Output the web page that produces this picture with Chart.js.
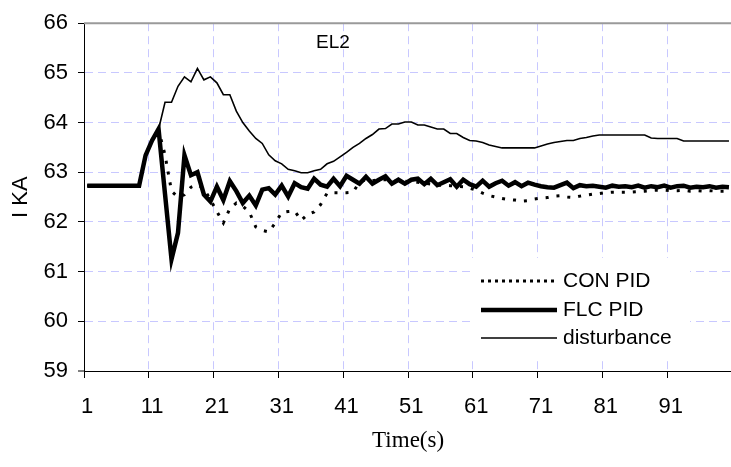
<!DOCTYPE html>
<html>
<head>
<meta charset="utf-8">
<title>EL2</title>
<script src="https://cdn.jsdelivr.net/npm/chart.js@4.4.0/dist/chart.umd.min.js"></script>
<style>
  html,
  body {
    margin: 0;
    padding: 0;
    background: #fff;
    overflow: hidden;
  }
  .c-chart {
    width: 745px;
    height: 467px;
  }
</style>
</head>
<body>
<div class="c-chart"><canvas class="js-chart" width="745" height="467"></canvas></div>
<script>
//#region ***  Data                                     ***********
const timeLabels = [
  "1", "2", "3", "4", "5", "6", "7", "8", "9", "10",
  "11", "12", "13", "14", "15", "16", "17", "18", "19", "20",
  "21", "22", "23", "24", "25", "26", "27", "28", "29", "30",
  "31", "32", "33", "34", "35", "36", "37", "38", "39", "40",
  "41", "42", "43", "44", "45", "46", "47", "48", "49", "50",
  "51", "52", "53", "54", "55", "56", "57", "58", "59", "60",
  "61", "62", "63", "64", "65", "66", "67", "68", "69", "70",
  "71", "72", "73", "74", "75", "76", "77", "78", "79", "80",
  "81", "82", "83", "84", "85", "86", "87", "88", "89", "90",
  "91", "92", "93", "94", "95", "96", "97", "98", "99", "100",
];
const shownTimeTicks = ["1", "11", "21", "31", "41", "51", "61", "71", "81", "91"];
const yTicks = [59, 60, 61, 62, 63, 64, 65, 66];

const conPid = [
  62.73, 62.73, 62.73, 62.73, 62.73, 62.73, 62.73, 62.73, 62.73, 63.34,
  63.64, 63.85, 63.35, 62.62, 62.5, 62.55, 62.7, 62.75, 62.67, 62.45,
  62.21, 61.98, 62.27, 62.38, 62.32, 62.2, 61.9, 61.83, 61.8, 61.98,
  62.19, 62.21, 62.22, 62.03, 62.15, 62.2, 62.35, 62.58, 62.59, 62.59,
  62.59, 62.6, 62.8, 62.85, 62.83, 62.85, 62.85, 62.83, 62.82, 62.82,
  62.8, 62.8, 62.78, 62.76, 62.74, 62.74, 62.73, 62.72, 62.71, 62.68,
  62.64, 62.58, 62.53, 62.5, 62.47, 62.45, 62.44, 62.42, 62.43, 62.46,
  62.48, 62.49, 62.52, 62.53, 62.5, 62.49, 62.52, 62.54, 62.56, 62.57,
  62.59, 62.6, 62.6, 62.6, 62.6, 62.61, 62.62, 62.63, 62.64, 62.64,
  62.63, 62.63, 62.64, 62.62, 62.63, 62.62, 62.63, 62.62, 62.62, 62.62,
];
const flcPid = [
  62.73, 62.73, 62.73, 62.73, 62.73, 62.73, 62.73, 62.73, 62.73, 63.34,
  63.64, 63.87, 62.56, 61.25, 61.78, 63.34, 62.94, 63.0, 62.55, 62.41,
  62.71, 62.44, 62.82, 62.62, 62.38, 62.53, 62.33, 62.65, 62.68, 62.55,
  62.73, 62.51, 62.78, 62.7, 62.67, 62.87, 62.75, 62.71, 62.87, 62.72,
  62.93, 62.85, 62.77, 62.91, 62.77, 62.85, 62.92, 62.77, 62.85, 62.77,
  62.85, 62.87, 62.76, 62.87, 62.74, 62.8, 62.86, 62.71, 62.85, 62.76,
  62.71, 62.83, 62.71, 62.78, 62.83, 62.73, 62.8, 62.72, 62.79, 62.75,
  62.72, 62.7, 62.69, 62.74, 62.79, 62.68, 62.74, 62.72, 62.73, 62.71,
  62.69, 62.73, 62.71, 62.72, 62.7, 62.73, 62.69, 62.72, 62.7, 62.73,
  62.69, 62.72, 62.73, 62.69, 62.71, 62.7, 62.72, 62.69, 62.71, 62.7,
];
const disturbance = [
  62.73, 62.73, 62.73, 62.73, 62.73, 62.73, 62.73, 62.73, 62.73, 63.34,
  63.64, 63.86, 64.41, 64.41, 64.73, 64.92, 64.82, 65.09, 64.86, 64.92,
  64.8, 64.56, 64.56, 64.23, 64.0, 63.83, 63.68, 63.58, 63.35, 63.23,
  63.17, 63.06, 63.03, 62.99, 62.99, 63.03, 63.06, 63.17, 63.22, 63.31,
  63.4, 63.5, 63.58, 63.68, 63.76, 63.87, 63.88, 63.97, 63.97, 64.01,
  64.01, 63.95, 63.95, 63.91, 63.87, 63.87, 63.78, 63.78, 63.7, 63.64,
  63.63, 63.6, 63.55, 63.52, 63.49, 63.49, 63.49, 63.49, 63.49, 63.49,
  63.53, 63.57, 63.6, 63.62, 63.64, 63.64, 63.68, 63.7, 63.73, 63.75,
  63.75, 63.75, 63.75, 63.75, 63.75, 63.75, 63.75, 63.69, 63.68, 63.68,
  63.68, 63.68, 63.63, 63.63, 63.63, 63.63, 63.63, 63.63, 63.63, 63.63,
];
//#endregion

//#region ***  Styles                                   ***********
const gridColor = "#c8c8ff";
const gridDash = [8, 5];
const sansFont = "'Liberation Sans', Arial, sans-serif";
const serifFont = "'Liberation Serif', 'Times New Roman', serif";
//#endregion

//#region ***  Plugins - draw___                        ***********
// white legend box, grey frame line on top, "EL2" label
const chartDecorations = {
  id: "chartDecorations",
  beforeDatasetsDraw(chart) {
    const ctx = chart.ctx;
    const area = chart.chartArea;
    ctx.save();
    ctx.fillStyle = "#fff";
    ctx.fillRect(472, 258, 218, 99);

    ctx.strokeStyle = "#9a9a9a";
    ctx.lineWidth = 2;
    ctx.beginPath();
    ctx.moveTo(area.left, area.top);
    ctx.lineTo(area.right, area.top);
    ctx.stroke();
    ctx.restore();
  },
  afterDatasetsDraw(chart) {
    const ctx = chart.ctx;
    ctx.save();
    ctx.fillStyle = "#000";
    ctx.textBaseline = "middle";
    ctx.textAlign = "left";
    ctx.font = `19px ${sansFont}`;
    ctx.fillText("EL2", 316, 43);

    const rows = [281, 310, 338];
    ctx.font = `21px ${sansFont}`;
    chart.data.datasets.forEach(function (ds, i) {
      const y = rows[i];
      ctx.strokeStyle = ds.borderColor;
      ctx.lineWidth = ds.borderWidth;
      ctx.setLineDash(ds.legendDash || []);
      ctx.beginPath();
      ctx.moveTo(481, y);
      ctx.lineTo(557, y);
      ctx.stroke();
      ctx.setLineDash([]);
      ctx.fillText(ds.label, 563, y);
    });
    ctx.restore();
  },
};
//#endregion

//#region ***  Init / DOMContentLoaded                  ***********
const init = function () {
  const htmlChart = document.querySelector(".js-chart");
  Chart.defaults.font.family = sansFont;
  Chart.defaults.color = "#000";

  const data = {
    labels: timeLabels,
    datasets: [
      {
        label: "CON PID",
        data: conPid,
        borderColor: "#000",
        borderWidth: 3,
        borderDash: [3, 8],
        legendDash: [3, 4],
        pointRadius: 0,
        tension: 0,
      },
      {
        label: "FLC PID",
        data: flcPid,
        borderColor: "#000",
        borderWidth: 4.5,
        pointRadius: 0,
        tension: 0,
      },
      {
        label: "disturbance",
        data: disturbance,
        borderColor: "#000",
        borderWidth: 1.6,
        pointRadius: 0,
        tension: 0,
      },
    ],
  };

  const config = {
    type: "line",
    data: data,
    plugins: [chartDecorations],
    options: {
      responsive: false,
      animation: false,
      events: [],
      layout: { padding: { top: 19, right: 6, left: 0, bottom: 0 } },
      plugins: {
        legend: { display: false },
        tooltip: { enabled: false },
      },
      scales: {
        x: {
          offset: true,
          grid: {
            offset: true,
            color: gridColor,
            lineWidth: (c) => (c.index % 10 === 0 ? 1 : 0),
            tickLength: 7,
            tickColor: "#000",
            tickWidth: (c) => (c.index % 10 === 0 ? 1 : 0),
          },
          border: { color: "#000", width: 1, dash: gridDash },
          ticks: {
            autoSkip: false,
            maxRotation: 0,
            padding: 16,
            font: { size: 22 },
            callback: function (value) {
              const label = this.getLabelForValue(value);
              return shownTimeTicks.includes(label) ? label : "";
            },
          },
          title: {
            display: true,
            text: "Time(s)",
            font: { family: serifFont, size: 23 },
            padding: { top: 0, bottom: 12 },
          },
          afterFit: (scale) => {
            scale.height = 96;
          },
        },
        y: {
          min: yTicks[0],
          max: yTicks[yTicks.length - 1],
          afterBuildTicks: (scale) => {
            scale.ticks = yTicks.map((v) => ({ value: v }));
          },
          grid: {
            color: gridColor,
            lineWidth: (c) => (c.index === 0 ? 0 : 1),
            tickLength: 6,
            tickColor: "#000",
            tickWidth: 1,
          },
          border: { color: "#000", width: 1, dash: gridDash },
          ticks: { padding: 10, font: { size: 22 } },
          title: {
            display: true,
            text: "I KA",
            font: { size: 22 },
            padding: { top: 8, bottom: 0 },
          },
          afterFit: (scale) => {
            scale.width = 84;
          },
        },
      },
    },
  };
  new Chart(htmlChart, config);
};

document.addEventListener("DOMContentLoaded", init);
//#endregion
</script>
</body>
</html>
